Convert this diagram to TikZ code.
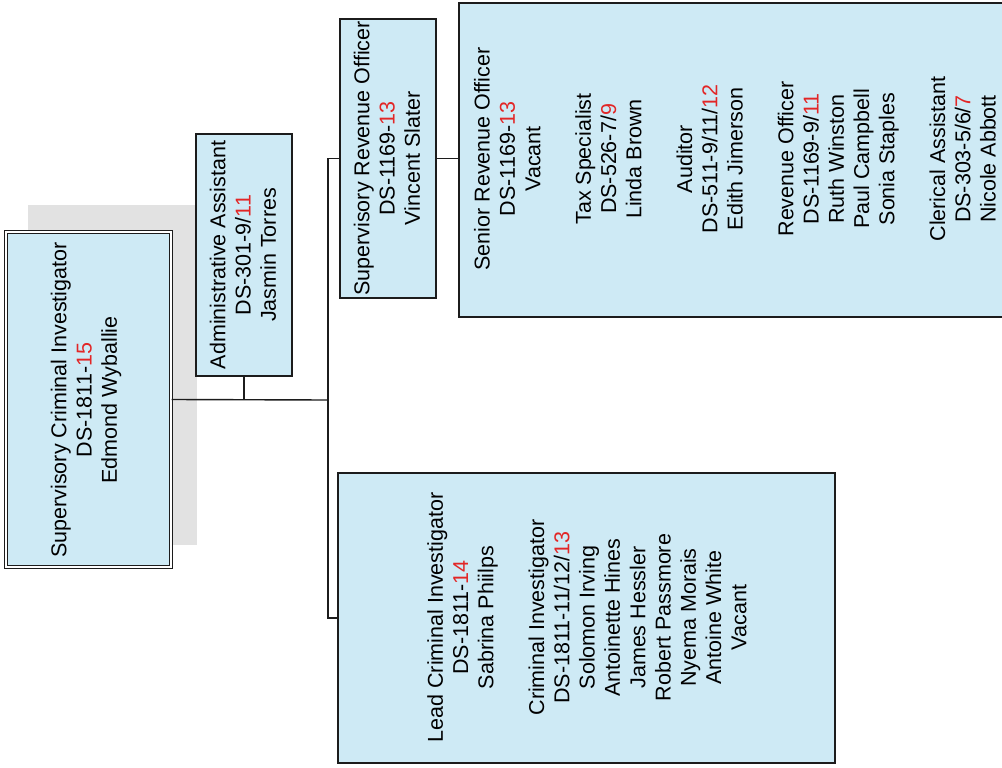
\documentclass[tikz,border=0pt]{standalone}
\usepackage{fontspec}
\setmainfont{Liberation Sans}
\definecolor{boxfill}{RGB}{206,234,245}
\definecolor{shadowgray}{RGB}{226,226,226}
\definecolor{gradered}{RGB}{226,38,38}
\definecolor{linecol}{RGB}{28,28,28}
\newcommand\rd[1]{\textcolor{gradered}{#1}}
\begin{document}
\begin{tikzpicture}[x=1pt,y=-1pt,
  orgbox/.style={draw=linecol, line width=1.4pt, fill=boxfill, rectangle, inner sep=0pt},
  rotlabel/.style={rotate=90, align=center, inner sep=0pt, text=black,
    font=\fontsize{21.5}{25.3}\selectfont},
  link/.style={draw=linecol, line width=1.4pt}]
\useasboundingbox (0,0) rectangle (1002,768);
\clip (0,0) rectangle (1002,768);
\fill[white] (0,0) rectangle (1002,768);
% shadow of the root box
\fill[shadowgray] (28,205) rectangle (197,545);
% boxes
\node[orgbox, double=white, double distance=2.4pt, line width=1.1pt,
  minimum width=165pt, minimum height=335pt] (root) at (88.5,399.5) {};
\node[orgbox, minimum width=96pt, minimum height=242pt] (admin) at (244,255) {};
\node[orgbox, minimum width=96pt, minimum height=279pt] (sro) at (388,158.5) {};
\node[orgbox, minimum width=556pt, minimum height=314pt] (big) at (737,160) {};
\node[orgbox, minimum width=497pt, minimum height=290pt] (bot) at (586.5,618) {};
% labels
\node[rotlabel] (rootT) at (86,400) {Supervisory Criminal Investigator\\DS-1811-\rd{15}\\Edmond Wyballie};
\node[rotlabel] (adminT) at (243,255) {Administrative Assistant\\DS-301-9/\rd{11}\\Jasmin Torres};
\node[rotlabel] (sroT) at (387,158.5) {Supervisory Revenue Officer\\DS-1169-\rd{13}\\Vincent Slater};
\node[rotlabel] (bigT) at (735,159) {Senior Revenue Officer\\DS-1169-\rd{13}\\Vacant\\[25.3pt]
Tax Specialist\\DS-526-7/\rd{9}\\Linda Brown\\[25.3pt]
Auditor\\DS-511-9/11/\rd{12}\\Edith Jimerson\\[25.3pt]
Revenue Officer\\DS-1169-9/\rd{11}\\Ruth Winston\\Paul Campbell\\Sonia Staples\\[25.3pt]
Clerical Assistant\\DS-303-5/6/\rd{7}\\Nicole Abbott};
\node[rotlabel] (botT) at (587,617.5) {Lead Criminal Investigator\\DS-1811-\rd{14}\\Sabrina Phiilps\\[25.3pt]
Criminal Investigator\\DS-1811-11/12/\rd{13}\\Solomon Irving\\Antoinette Hines\\James Hessler\\Robert Passmore\\Nyema Morais\\Antoine White\\Vacant};
% connectors
\coordinate (trunk) at (328,400);
\draw[link] (root.east) -- (trunk);
\draw[link] (admin.south) -- (admin.south |- root.east);
\draw[link] (sro.west) -| (trunk) |- (bot.west);
\draw[link] (sro.east) -- (sro.east -| big.west);
\end{tikzpicture}
\end{document}
